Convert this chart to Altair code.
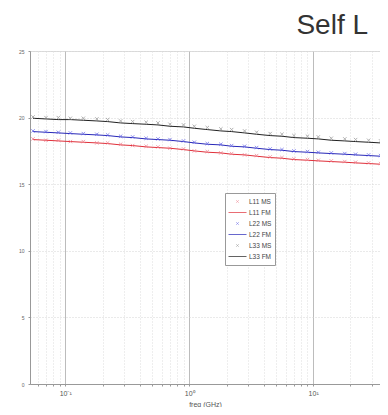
import altair as alt
import pandas as pd

freq = [0.055, 0.07, 0.088, 0.11, 0.14, 0.18, 0.22, 0.28, 0.35, 0.45, 0.56, 0.7, 0.9, 1.1,
        1.4, 1.8, 2.2, 2.8, 3.5, 4.5, 5.6, 7.0, 9.0, 11, 14, 18, 22, 28, 35]

L11_MS = [18.4, 18.3, 18.3, 18.2, 18.2, 18.1, 18.1, 18.0, 17.9, 17.85, 17.8, 17.7, 17.65, 17.5,
          17.45, 17.35, 17.3, 17.2, 17.15, 17.05, 17.0, 16.9, 16.85, 16.8, 16.75, 16.7, 16.65, 16.6, 16.55]
L11_FM = [18.35, 18.3, 18.25, 18.2, 18.15, 18.1, 18.05, 17.95, 17.9, 17.8, 17.75, 17.7, 17.6, 17.5,
          17.4, 17.35, 17.25, 17.2, 17.1, 17.0, 16.95, 16.85, 16.8, 16.75, 16.7, 16.65, 16.6, 16.55, 16.5]
L22_MS = [19.0, 18.95, 18.9, 18.85, 18.8, 18.75, 18.7, 18.6, 18.55, 18.45, 18.4, 18.35, 18.25, 18.15,
          18.05, 18.0, 17.9, 17.85, 17.75, 17.65, 17.6, 17.5, 17.45, 17.4, 17.35, 17.3, 17.25, 17.2, 17.15]
L22_FM = [18.95, 18.9, 18.85, 18.8, 18.75, 18.7, 18.65, 18.55, 18.5, 18.4, 18.35, 18.3, 18.2, 18.1,
          18.0, 17.95, 17.85, 17.8, 17.7, 17.6, 17.55, 17.45, 17.4, 17.35, 17.3, 17.25, 17.2, 17.15, 17.1]
L33_MS = [20.05, 20.0, 20.0, 19.95, 19.95, 19.9, 19.85, 19.75, 19.7, 19.65, 19.6, 19.5, 19.45, 19.35,
          19.25, 19.15, 19.1, 19.0, 18.9, 18.8, 18.75, 18.65, 18.6, 18.55, 18.45, 18.4, 18.35, 18.3, 18.25]
L33_FM = [19.95, 19.9, 19.85, 19.85, 19.8, 19.75, 19.7, 19.6, 19.55, 19.5, 19.45, 19.35, 19.3, 19.2,
          19.1, 19.0, 18.95, 18.85, 18.75, 18.65, 18.6, 18.5, 18.45, 18.4, 18.3, 18.25, 18.2, 18.15, 18.1]

series_names = ["L11 MS", "L11 FM", "L22 MS", "L22 FM", "L33 MS", "L33 FM"]
series_values = [L11_MS, L11_FM, L22_MS, L22_FM, L33_MS, L33_FM]
series_colors = ["#f07a8a", "#e0303a", "#6060e8", "#2828b8", "#909090", "#222222"]
xmark = "M-0.12,-0.12L0.12,0.12M-0.12,0.12L0.12,-0.12"
series_shapes = [xmark, "stroke", xmark, "stroke", xmark, "stroke"]

x_tick_values = [0.06, 0.07, 0.08, 0.09, 0.1, 0.2, 0.3, 0.4, 0.5, 0.6, 0.7, 0.8, 0.9, 1,
                 2, 3, 4, 5, 6, 7, 8, 9, 10, 20, 30]
y_tick_values = [0, 5, 10, 15, 20, 25]

rows = []
for name, vals in zip(series_names, series_values):
    for f, v in zip(freq, vals):
        rows.append({"freq": f, "value": v, "series": name})
df = pd.DataFrame(rows)

major = "datum.value == 0.1 || datum.value == 1 || datum.value == 10"

x_enc = alt.X(
    "freq:Q",
    scale=alt.Scale(type="log", domain=[0.052, 34.6], nice=False),
    axis=alt.Axis(
        values=x_tick_values,
        labelExpr="datum.value == 0.1 ? '10⁻¹' : datum.value == 1 ? '10⁰' : datum.value == 10 ? '10¹' : ''",
        title="freq (GHz)",
        titleFontSize=7, titleFontWeight="normal", titleColor="#555", titlePadding=4,
        labelFontSize=7, labelColor="#555", labelPadding=3,
        gridColor={"condition": {"test": major, "value": "#bcbcbc"}, "value": "#dcdcdc"},
        gridDash={"condition": {"test": major, "value": []}, "value": [1, 2]},
        gridWidth=1,
        tickSize=2, tickColor="#999",
        domainColor="#999",
        labelOverlap=False,
    ),
)
y_enc = alt.Y(
    "value:Q",
    scale=alt.Scale(domain=[0, 25], nice=False),
    axis=alt.Axis(
        values=y_tick_values, title=None,
        labelFontSize=5, labelColor="#666", labelPadding=4,
        gridColor="#d4d4d4", gridDash=[1, 2],
        tickSize=2, tickColor="#999", domainColor="#999",
    ),
)

legend_params = dict(
    title=None, orient="none", legendX=195, legendY=142,
    labelFontSize=6.5, labelColor="#444", symbolSize=324, symbolStrokeWidth=1,
    rowPadding=0, clipHeight=11, padding=3, fillColor="white", strokeColor="#999",
    labelLimit=100, labelOffset=2,
)

color_scale = alt.Scale(domain=series_names, range=series_colors)
shape_scale = alt.Scale(domain=series_names, range=series_shapes)

base = alt.Chart(df).encode(x=x_enc, y=y_enc)

lines = base.mark_line(strokeWidth=1, clip=True).encode(
    color=alt.Color("series:N", scale=color_scale, legend=alt.Legend(**legend_params)),
    detail="series:N",
).transform_filter(alt.FieldOneOfPredicate(field="series", oneOf=["L11 FM", "L22 FM", "L33 FM"]))

points = base.mark_point(filled=False, size=800, strokeWidth=1, clip=True).encode(
    color=alt.Color("series:N", scale=color_scale, legend=alt.Legend(**legend_params)),
    shape=alt.Shape("series:N", scale=shape_scale, legend=alt.Legend(**legend_params)),
).transform_filter(alt.FieldOneOfPredicate(field="series", oneOf=["L11 MS", "L22 MS", "L33 MS"]))

chart = alt.layer(lines, points).properties(
    width=350, height=333,
    title=alt.TitleParams("Self L", anchor="start", dx=278, fontSize=28, font="Liberation Sans",
                          fontWeight="normal", color="#333", offset=9),
    autosize=alt.AutoSizeParams(type="none"),
    padding={"left": 22, "top": 43, "right": 0, "bottom": 23},
).configure_view(stroke=None).configure(background="white")

chart.save("out.html", embed_options={"renderer": "svg", "actions": False})
